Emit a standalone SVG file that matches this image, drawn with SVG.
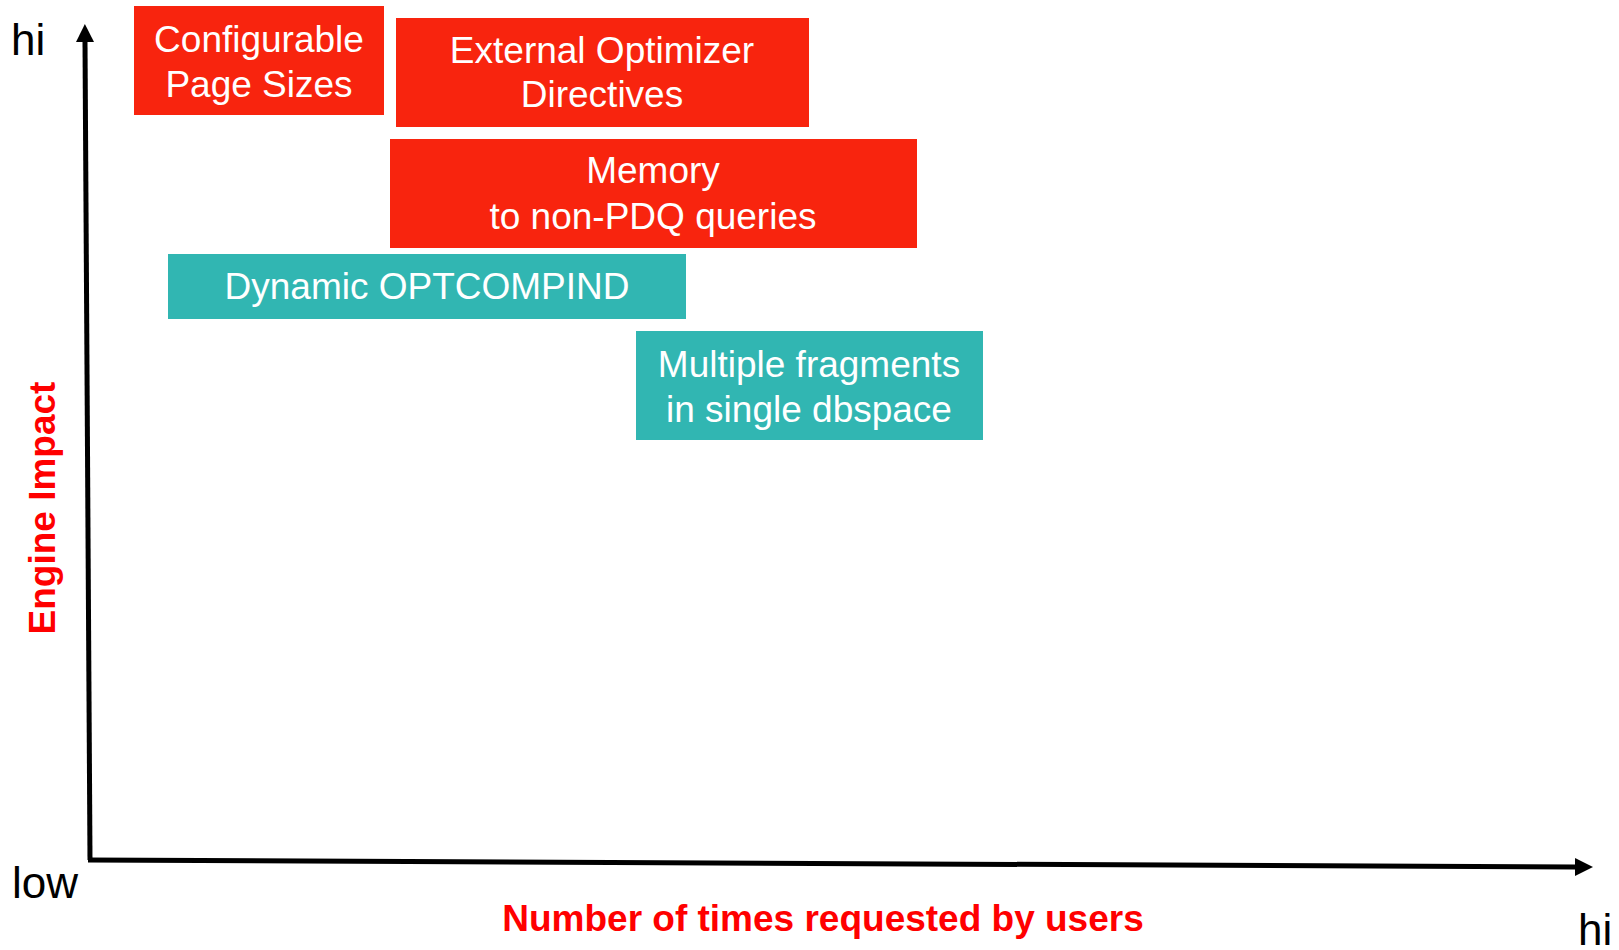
<svg xmlns="http://www.w3.org/2000/svg" width="1619" height="950" viewBox="0 0 1619 950">
  <style>
    .box-red { fill: #F8240E; }
    .box-teal { fill: #31B6B2; }
    .box-text { font-family: "Liberation Sans", Arial, sans-serif; font-size: 37px; fill: #FFFFFF; text-anchor: middle; }
    .axis { stroke: #000000; stroke-width: 5; fill: none; }
    .tick { font-family: "Liberation Sans", Arial, sans-serif; font-size: 44px; fill: #000000; }
    .axis-title { font-family: "Liberation Sans", Arial, sans-serif; font-size: 37px; font-weight: bold; fill: #FF0000; text-anchor: middle; }
  </style>
  <defs>
    <marker id="arrow" viewBox="0 0 18 18" refX="0" refY="9" markerWidth="18" markerHeight="18" markerUnits="userSpaceOnUse" orient="auto">
      <path d="M0,0 L18,9 L0,18 Z" fill="#000000"/>
    </marker>
  </defs>
  <rect width="1619" height="950" fill="#FFFFFF"/>

  <!-- axes -->
  <g id="connectors">
    <path class="axis" d="M90,860 L85,42" marker-end="url(#arrow)"/>
    <path class="axis" d="M88,860 L1575,867" marker-end="url(#arrow)"/>
  </g>

  <!-- axis labels -->
  <g id="axis-labels">
    <text class="tick" x="11" y="55">hi</text>
    <text class="tick" x="12" y="898">low</text>
    <text class="tick" x="1578" y="945">hi</text>
    <text class="axis-title" x="823" y="931">Number of times requested by users</text>
    <text class="axis-title" transform="translate(55,508) rotate(-90)" x="0" y="0">Engine Impact</text>
  </g>

  <g id="node-page-sizes">
    <rect class="box-red" x="134" y="6" width="250" height="109"/>
    <text class="box-text" x="259" y="52">Configurable</text>
    <text class="box-text" x="259" y="97">Page Sizes</text>
  </g>

  <g id="node-optimizer-directives">
    <rect class="box-red" x="396" y="18" width="413" height="109"/>
    <text class="box-text" x="602" y="63">External Optimizer</text>
    <text class="box-text" x="602" y="107">Directives</text>
  </g>

  <g id="node-memory">
    <rect class="box-red" x="390" y="139" width="527" height="109"/>
    <text class="box-text" x="653" y="183">Memory</text>
    <text class="box-text" x="653" y="229">to non-PDQ queries</text>
  </g>

  <g id="node-optcompind">
    <rect class="box-teal" x="168" y="254" width="518" height="65"/>
    <text class="box-text" x="427" y="299">Dynamic OPTCOMPIND</text>
  </g>

  <g id="node-fragments">
    <rect class="box-teal" x="636" y="331" width="347" height="109"/>
    <text class="box-text" x="809" y="377">Multiple fragments</text>
    <text class="box-text" x="809" y="422">in single dbspace</text>
  </g>
</svg>
